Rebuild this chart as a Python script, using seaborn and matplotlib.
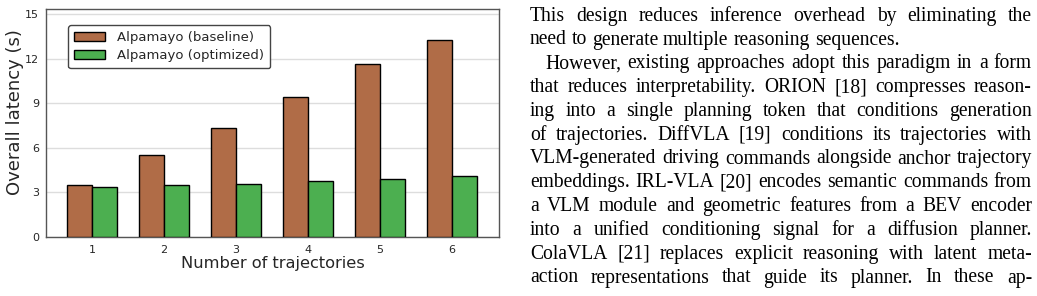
import matplotlib
matplotlib.use("Agg")
import matplotlib.pyplot as plt
import seaborn as sns
import pandas as pd
from matplotlib.transforms import IdentityTransform

# ---------------- data ----------------
trajectories = ["1", "2", "3", "4", "5", "6"]
baseline = [3.50, 5.50, 7.35, 9.43, 11.60, 13.25]
optimized = [3.34, 3.47, 3.59, 3.77, 3.90, 4.08]
series_names = ["Alpamayo (baseline)", "Alpamayo (optimized)"]
yticks = [0, 3, 6, 9, 12, 15]

text_lines = [
    "This design reduces inference overhead by eliminating the",
    "need to generate multiple reasoning sequences.",
    "However, existing approaches adopt this paradigm in a form",
    "that reduces interpretability. ORION [18] compresses reason-",
    "ing into a single planning token that conditions generation",
    "of trajectories. DiffVLA [19] conditions its trajectories with",
    "VLM-generated driving commands alongside anchor trajectory",
    "embeddings. IRL-VLA [20] encodes semantic commands from",
    "a VLM module and geometric features from a BEV encoder",
    "into a unified conditioning signal for a diffusion planner.",
    "ColaVLA [21] replaces explicit reasoning with latent meta-",
    "action representations that guide its planner. In these ap-",
]
justified = [True, False, True, True, True, True, True, True, True, True, True, True]
indented = [False, False, True, False, False, False, False, False, False, False, False, False]

df = pd.DataFrame({
    "traj": trajectories * 2,
    "latency": baseline + optimized,
    "series": [series_names[0]] * 6 + [series_names[1]] * 6,
})

# ---------------- figure ----------------
sns.set_style("white")
plt.rcParams["font.family"] = ["DejaVu Sans"]
W, H = 1037, 296
fig = plt.figure(figsize=(W / 100, H / 100), dpi=100)
ax = fig.add_axes([46 / W, 1 - 237 / H, 453 / W, 228 / H])

palette = {series_names[0]: "#b06c47", series_names[1]: "#4caf50"}
sns.barplot(data=df, x="traj", y="latency", hue="series", palette=palette,
            width=0.7, gap=0, edgecolor="black", linewidth=1.0, saturation=1,
            ax=ax, zorder=3)

ax.set_ylim(0, 15.33)
ax.set_xlim(-0.64, 5.65)
ax.set_yticks(yticks)
ax.set_yticklabels([str(v) for v in yticks])
ax.yaxis.grid(True, color="#dddddd", linewidth=1.0, zorder=0)
ax.set_axisbelow(True)
for s in ax.spines.values():
    s.set_visible(True)
    s.set_color("#555555")
    s.set_linewidth(1.0)
ax.tick_params(axis="both", labelsize=8, length=3, width=0.8, color="#555555", pad=2)
ax.tick_params(axis="x", pad=3)

ax.set_ylabel("Overall latency (s)", fontsize=13)
ax.set_xlabel("Number of trajectories", fontsize=11.7)
ax.yaxis.set_label_coords(-0.048, 0.548)
ax.xaxis.set_label_coords(0.5, -0.085)

leg = ax.legend(loc="upper left", bbox_to_anchor=(22 / 453, 1 - 16 / 228),
                borderaxespad=0, fontsize=9.5, frameon=True, fancybox=True,
                framealpha=1, edgecolor="#444444", handlelength=2.35,
                handleheight=0.7, handletextpad=0.95, labelspacing=0.4,
                borderpad=0.45)
leg.get_frame().set_linewidth(1.0)
for h in leg.legend_handles:
    h.set_edgecolor("black")
    h.set_linewidth(1.0)

# ---------------- paragraph text (justified) ----------------
renderer = fig.canvas.get_renderer()
left, right, indent = 530.0, 1032.0, 545.0
base0, lead = 20.7, 23.8
serif = "Liberation Serif"


def width_of(s, size):
    t = fig.text(0, 0, s, fontsize=size, family=serif)
    w = t.get_window_extent(renderer).width
    t.remove()
    return w


# choose font size so the tightest justified line fits with normal spacing
fs0 = 14.0
ratio = 0.0
for i, line in enumerate(text_lines):
    if justified[i]:
        avail = right - (indent if indented[i] else left)
        ratio = max(ratio, width_of(line, fs0) / avail)
fs = fs0 / ratio * 0.995

space_w = width_of("a a", fs) - width_of("aa", fs)
for i, line in enumerate(text_lines):
    y = H - (base0 + lead * i)
    x0 = indent if indented[i] else left
    words = line.split(" ")
    arts = [fig.text(0, y, w, transform=IdentityTransform(), fontsize=fs,
                     family=serif, va="baseline", ha="left", color="black")
            for w in words]
    widths = [a.get_window_extent(renderer).width for a in arts]
    if justified[i] and len(words) > 1:
        gap = (right - x0 - sum(widths)) / (len(words) - 1)
    else:
        gap = space_w
    x = x0
    for a, w in zip(arts, widths):
        a.set_position((x, y))
        x += w + gap

fig.savefig("out.png", dpi=100)
